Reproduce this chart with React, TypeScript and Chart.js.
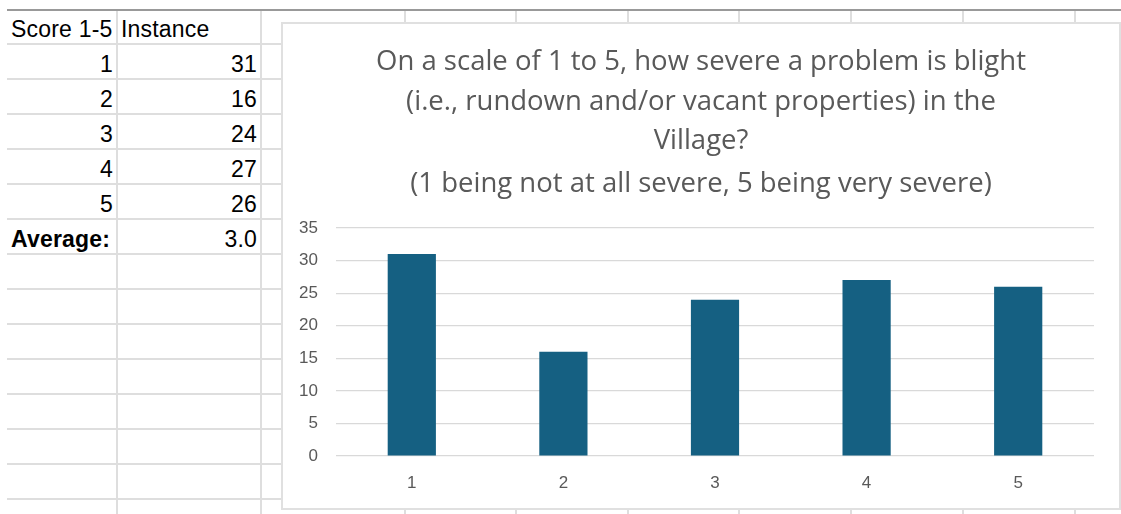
import React, { useEffect, useRef } from "react";
import { Chart, registerables } from "chart.js";

Chart.register(...registerables);

// Survey data: score (1-5) and how many respondents chose it
const scoreLabels = ["1", "2", "3", "4", "5"];
const instanceCounts = [31, 16, 24, 27, 26];

// Chart headings
const titleLines = [
  "On a scale of 1 to 5, how severe a problem is blight",
  "(i.e., rundown and/or vacant properties) in the",
  "Village?",
];
const subtitleLine = "(1 being not at all severe, 5 being very severe)";

// Value axis range
const yMin = 0;
const yMax = 35;
const yStep = 5;

// Header cells of the worksheet
const headerCells = ["Score 1-5", "Instance"];
const averageLabel = "Average:";

// Worksheet grid geometry
const columnLines = [117, 261, 405, 516, 628, 739, 851, 963, 1075];
const firstRowLine = 43.5;
const rowHeight = 35.04;
const rowLineCount = 14;
const gridLeft = 7;

const sheetFont = '"Liberation Sans", Arial, sans-serif';
const chartTitleFont = "'Open Sans', sans-serif";
const axisFont = "'Liberation Sans', Arial, sans-serif";

function weightedAverage(scores: string[], counts: number[]): number {
  let total = 0;
  let n = 0;
  scores.forEach((s, i) => {
    total += Number(s) * counts[i];
    n += counts[i];
  });
  return total / n;
}

type CellProps = {
  text: string;
  row: number; // row index, 0 = header row
  colLeft: number;
  colRight: number;
  align: "left" | "right";
  bold?: boolean;
};

function Cell({ text, row, colLeft, colRight, align, bold }: CellProps) {
  const bottomLine = firstRowLine + row * rowHeight;
  const baseline = bottomLine - 6.5;
  const top = baseline - 19.4;
  return (
    <div
      style={{
        position: "absolute",
        left: colLeft + 4,
        width: colRight - colLeft - 10,
        top,
        height: 23,
        lineHeight: "23px",
        fontSize: 23,
        letterSpacing: 0.2,
        fontFamily: sheetFont,
        fontWeight: bold ? 700 : 400,
        color: "#000",
        textAlign: align,
        whiteSpace: "nowrap",
      }}
    >
      {text}
    </div>
  );
}

function ResultsChart() {
  const canvasRef = useRef<HTMLCanvasElement>(null);

  useEffect(() => {
    if (!canvasRef.current) return;
    const tickFont = { family: axisFont, size: 17 };
    const chart = new Chart(canvasRef.current, {
      type: "bar",
      data: {
        labels: scoreLabels,
        datasets: [
          {
            data: instanceCounts,
            backgroundColor: "#156082",
            borderWidth: 0,
            categoryPercentage: 1,
            barPercentage: 0.318,
          },
        ],
      },
      options: {
        responsive: false,
        animation: false,
        devicePixelRatio: 1,
        layout: { padding: 0 },
        plugins: {
          legend: { display: false },
          tooltip: { enabled: false },
          title: {
            display: true,
            text: titleLines,
            color: "#595959",
            font: {
              family: chartTitleFont,
              size: 27.5,
              weight: "normal",
              lineHeight: "39.5px",
            },
            padding: { top: 18.5, bottom: 0 },
          },
          subtitle: {
            display: true,
            text: subtitleLine,
            color: "#595959",
            font: {
              family: chartTitleFont,
              size: 27.5,
              weight: "normal",
              lineHeight: "30px",
            },
            padding: { top: 8, bottom: 29 },
          },
        },
        scales: {
          x: {
            grid: { display: false, drawTicks: false },
            border: { display: false },
            ticks: { color: "#595959", font: tickFont, padding: 17 },
            afterFit: (scale: any) => {
              scale.height = 52;
            },
          },
          y: {
            min: yMin,
            max: yMax,
            ticks: {
              stepSize: yStep,
              color: "#595959",
              font: tickFont,
              padding: 18,
            },
            grid: { color: "#d9d9d9", lineWidth: 1.25, drawTicks: false },
            border: { display: false },
            afterFit: (scale: any) => {
              scale.width = 53;
            },
          },
          // empty right-hand margin, so the plot sits inside the box while
          // the headings stay centred on the whole chart
          rightGap: {
            type: "linear",
            position: "right",
            display: true,
            grid: { display: false, drawTicks: false },
            border: { display: false },
            ticks: { display: false },
            afterFit: (scale: any) => {
              scale.width = 25;
            },
          },
        },
      },
    });
    return () => chart.destroy();
  }, []);

  return (
    <canvas
      ref={canvasRef}
      width={836}
      height={484}
      style={{ display: "block", width: 836, height: 484 }}
    />
  );
}

export default function App() {
  const avg = weightedAverage(scoreLabels, instanceCounts).toFixed(1);
  const rowLines = Array.from({ length: rowLineCount }, (_, k) => firstRowLine + k * rowHeight);

  return (
    <div
      style={{
        position: "fixed",
        left: 0,
        top: 0,
        width: 1121,
        height: 514,
        background: "#fff",
        overflow: "hidden",
      }}
    >
      {/* frozen header separator */}
      <div
        style={{
          position: "absolute",
          left: gridLeft,
          top: 9,
          width: 1121 - gridLeft,
          height: 2,
          background: "#999",
        }}
      />
      {/* row lines */}
      {rowLines.map((y, i) => (
        <div
          key={"r" + i}
          style={{
            position: "absolute",
            left: gridLeft,
            top: Math.round(y - 1),
            width: 1121 - gridLeft,
            height: 2,
            background: "#dedede",
          }}
        />
      ))}
      {/* column lines */}
      {columnLines.map((x, i) => (
        <div
          key={"c" + i}
          style={{
            position: "absolute",
            left: x - 1,
            top: 11,
            width: 2,
            height: 514 - 11,
            background: "#dedede",
          }}
        />
      ))}

      {/* table cells */}
      <Cell text={headerCells[0]} row={0} colLeft={gridLeft} colRight={columnLines[0]} align="left" />
      <Cell text={headerCells[1]} row={0} colLeft={columnLines[0]} colRight={columnLines[1]} align="left" />
      {scoreLabels.map((s, i) => (
        <React.Fragment key={s}>
          <Cell text={s} row={i + 1} colLeft={gridLeft} colRight={columnLines[0] + 2} align="right" />
          <Cell text={String(instanceCounts[i])} row={i + 1} colLeft={columnLines[0]} colRight={columnLines[1] + 2} align="right" />
        </React.Fragment>
      ))}
      <Cell text={averageLabel} row={scoreLabels.length + 1} colLeft={gridLeft} colRight={columnLines[0]} align="left" bold />
      <Cell text={avg} row={scoreLabels.length + 1} colLeft={columnLines[0]} colRight={columnLines[1] + 2} align="right" />

      {/* embedded chart */}
      <div
        style={{
          position: "absolute",
          left: 281,
          top: 22,
          width: 840,
          height: 488,
          boxSizing: "border-box",
          border: "2px solid #e0e0e0",
          background: "#fff",
        }}
      >
        <ResultsChart />
      </div>
    </div>
  );
}
